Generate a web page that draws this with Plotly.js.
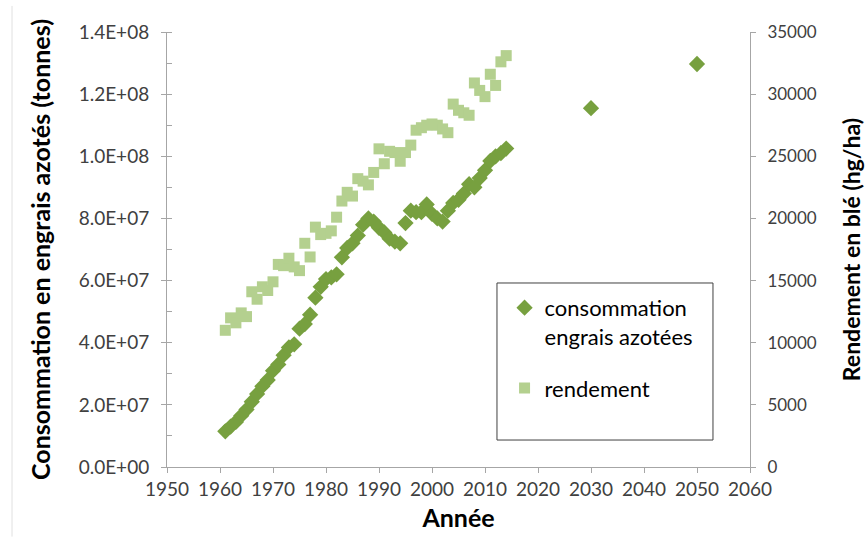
<!DOCTYPE html>
<html>
<head>
<meta charset="utf-8">
<script src="https://cdn.plot.ly/plotly-3.0.1.min.js"></script>
<style>
html,body{margin:0;padding:0;background:#fff;}
#chart{width:867px;height:539px;}
</style>
</head>
<body>
<div id="chart"></div>
<script>
// Consommation en engrais azotés (tonnes) - axe gauche
const yearsConso = [1961,1962,1963,1964,1965,1966,1967,1968,1969,1970,
  1971,1972,1973,1974,1975,1976,1977,1978,1979,1980,
  1981,1982,1983,1984,1985,1986,1987,1988,1989,1990,
  1991,1992,1993,1994,1995,1996,1997,1998,1999,2000,
  2001,2002,2003,2004,2005,2006,2007,2008,2009,2010,
  2011,2012,2013,2014,2030,2050];
const conso = [1.15e7,1.3e7,1.45e7,1.65e7,1.85e7,2.1e7,2.35e7,2.6e7,2.8e7,3.1e7,
  3.3e7,3.6e7,3.85e7,3.95e7,4.45e7,4.6e7,4.9e7,5.45e7,5.8e7,6.05e7,
  6.1e7,6.2e7,6.75e7,7.05e7,7.2e7,7.45e7,7.8e7,8.0e7,7.9e7,7.7e7,
  7.55e7,7.35e7,7.25e7,7.2e7,7.85e7,8.25e7,8.2e7,8.2e7,8.45e7,8.15e7,
  8.0e7,7.9e7,8.25e7,8.5e7,8.6e7,8.8e7,9.1e7,9.0e7,9.3e7,9.55e7,
  9.85e7,1.0e8,1.01e8,1.025e8,1.155e8,1.297e8];

// Rendement en blé (hg/ha) - axe droit
const yearsRend = [1961,1962,1963,1964,1965,1966,1967,1968,1969,1970,
  1971,1972,1973,1974,1975,1976,1977,1978,1979,1980,
  1981,1982,1983,1984,1985,1986,1987,1988,1989,1990,
  1991,1992,1993,1994,1995,1996,1997,1998,1999,2000,
  2001,2002,2003,2004,2005,2006,2007,2008,2009,2010,
  2011,2012,2013,2014];
const rendement = [11000,12000,11600,12400,12100,14100,13500,14500,14200,14900,
  16300,16200,16800,16100,15800,18000,16900,19300,18700,18800,
  19000,20100,21400,22100,21800,23200,23000,22700,23700,25600,
  24400,25400,25300,24600,25300,25900,27100,27300,27500,27600,
  27500,27200,26900,29200,28700,28500,28300,30900,30300,29800,
  31600,30700,32600,33100];

// Graduations
const xTicks = [1950,1960,1970,1980,1990,2000,2010,2020,2030,2040,2050,2060];
const yLeftTickVals = [0,2e7,4e7,6e7,8e7,1e8,1.2e8,1.4e8];
const yLeftTickText = ['0.0E+00','2.0E+07','4.0E+07','6.0E+07','8.0E+07','1.0E+08','1.2E+08','1.4E+08'];
const yRightTickVals = [0,5000,10000,15000,20000,25000,30000,35000];

const FONT = 'Lato, "Open Sans", sans-serif';
const AXC = '#a6a6a6';

const traces = [
  {
    type:'scatter', mode:'markers', name:'consommation<br>engrais azotées',
    legendgroup:'g1',
    x: yearsConso, y: conso, yaxis:'y',
    marker:{symbol:'diamond', size:12.5, color:'#77a03f'},
    hoverinfo:'x+y'
  },
  {
    type:'scatter', mode:'markers', name:'rendement',
    legendgroup:'g2',
    x: yearsRend, y: rendement, yaxis:'y2',
    marker:{symbol:'square', size:11, color:'#b4d08f'},
    hoverinfo:'x+y'
  }
];

const layout = {
  width:867, height:539,
  margin:{l:167, r:117, t:32, b:72},
  paper_bgcolor:'#fff', plot_bgcolor:'#fff',
  font:{family:FONT, color:'#404040'},
  showlegend:true,
  legend:{
    x:0.579, y:0.414, xanchor:'left', yanchor:'top',
    bgcolor:'rgba(0,0,0,0)', borderwidth:0,
    font:{family:FONT, size:22, color:'#000'},
    valign:'top', tracegroupgap:20
  },
  xaxis:{
    range:[1950,2060], tickvals:xTicks, ticktext:xTicks.map(String),
    showgrid:false, zeroline:false, showline:true, linecolor:AXC, linewidth:1,
    ticks:'outside', ticklen:5, tickcolor:AXC,
    tickfont:{family:FONT, size:19, color:'#404040'},
    title:{text:'<b>Année</b>', font:{family:FONT, size:25, color:'#000'}, standoff:10}
  },
  yaxis:{
    range:[0,1.4e8], tickvals:yLeftTickVals, ticktext:yLeftTickText,
    showgrid:false, zeroline:false, showline:true, linecolor:AXC, linewidth:1,
    ticks:'outside', ticklen:5, tickcolor:AXC, ticklabelstandoff:8,
    minor:{dtick:1e7, ticks:'inside', ticklen:5, tickcolor:AXC},
    tickfont:{family:FONT, size:19, color:'#404040'},
    title:{text:'<b>Consommation en engrais azotés (tonnes)</b>', font:{family:FONT, size:25, color:'#000'}, standoff:20}
  },
  yaxis2:{
    range:[0,35000], tickvals:yRightTickVals, ticktext:yRightTickVals.map(String),
    overlaying:'y', side:'right', anchor:'x',
    showgrid:false, zeroline:false, showline:true, linecolor:AXC, linewidth:1,
    ticks:'outside', ticklen:5, tickcolor:AXC, ticklabelstandoff:8,
    tickfont:{family:FONT, size:17, color:'#404040'},
    title:{text:'<b>Rendement en blé (hg/ha)</b>', font:{family:FONT, size:23, color:'#000'}, standoff:28}
  },
  shapes:[
    {type:'rect', xref:'paper', yref:'paper', x0:0.566, x1:0.9365, y0:0.062, y1:0.423,
     line:{color:'#404040', width:1}, fillcolor:'#fff', layer:'below'},
    {type:'line', xref:'paper', yref:'paper', x0:(12-167)/583, x1:(12-167)/583, y0:-0.16, y1:1.06,
     line:{color:'#e0e0e0', width:1}}
  ]
};

Plotly.newPlot('chart', traces, layout, {displayModeBar:false, staticPlot:true});
</script>
</body>
</html>
